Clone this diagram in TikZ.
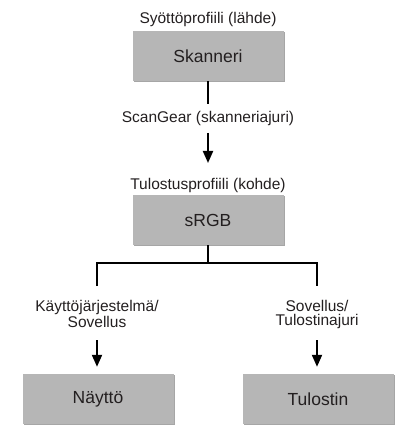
\documentclass[tikz,border=0pt]{standalone}
\usepackage{fontspec}
\setmainfont{Liberation Sans}
\usetikzlibrary{arrows.meta,shadows}
\definecolor{boxgray}{RGB}{182,182,182}
\definecolor{inkgray}{RGB}{35,31,32}
\tikzset{
    profbox/.style={fill=boxgray, minimum width=151pt, minimum height=50pt,
        inner sep=0pt, font=\fontsize{17.5}{20}\selectfont, text=inkgray,
        drop shadow={shadow xshift=1.2pt, shadow yshift=-1.2pt, fill=black, opacity=0.35}},
    proflabel/.style={font=\fontsize{15.5}{14}\selectfont, text=inkgray, align=center, inner sep=0pt},
    flowline/.style={line width=2pt, draw=black},
    flowarrow/.style={flowline, -{Triangle[length=12pt,width=10pt]}}
}
\begin{document}
\begin{tikzpicture}[x=1pt,y=-1pt]
        \useasboundingbox (0,0) rectangle (416,446);
        % scanner side
        \node[proflabel] (inlab) at (208,19) {Syöttöprofiili (lähde)};
        \node[profbox] (scanner) at (208,56) {Skanneri};
        \coordinate (drvtop) at (208,104);
        \node[proflabel] (drvlab) at (208,118) {ScanGear (skanneriajuri)};
        \coordinate (drvarr) at (208,133);
        \coordinate (outarr) at (208,163);
        \draw[flowline] (scanner.south) -- (drvtop);
        \draw[flowarrow] (drvarr) -- (outarr);
        % working space
        \node[proflabel] (outlab) at (208,185) {Tulostusprofiili (kohde)};
        \node[profbox] (srgb) at (208,220) {sRGB};
        \coordinate (fork) at (208,263);
        \coordinate (forkl) at (97,263);
        \coordinate (forkr) at (317,263);
        \coordinate (dropl) at (97,286);
        \coordinate (dropr) at (317,286);
        \draw[flowline] (srgb.south) -- (fork);
        \draw[flowline] (dropl) -- (forkl) -- (forkr) -- (dropr);
        % outputs
        \node[proflabel] (oslab) at (97,314) {Käyttöjärjestelmä/\\Sovellus};
        \node[proflabel] (prnlab) at (317,314) {Sovellus/\\Tulostinajuri};
        \coordinate (osarr) at (97,340);
        \coordinate (prnarr) at (317,340);
        \node[profbox] (display) at (98,399) {Näyttö};
        \node[profbox] (printer) at (318,399) {Tulostin};
        \draw[flowarrow] (osarr) -- ([yshift=7pt]display.north -| osarr);
        \draw[flowarrow] (prnarr) -- ([yshift=7pt]printer.north -| prnarr);
\end{tikzpicture}
\end{document}
